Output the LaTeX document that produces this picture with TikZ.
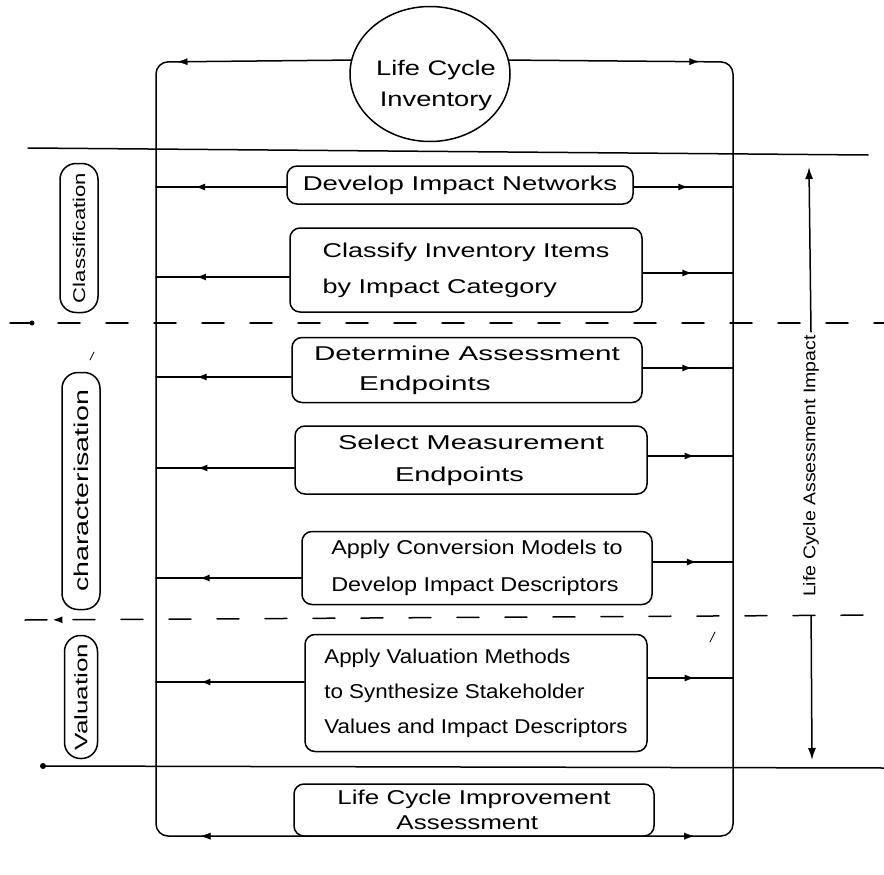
\documentclass[tikz,border=0pt]{standalone}
\usepackage{fontspec}
\setmainfont{Liberation Sans}
\usetikzlibrary{arrows.meta,decorations.markings,calc,shapes.geometric}

% handwritten-like wide lettering: size, leading, horizontal stretch
\newcommand\handfont[3]{\fontsize{#1}{#2}\selectfont\addfontfeature{FakeStretch=#3}}

\tikzset{
  pen/.style={line width=1.5pt, line cap=round, line join=round},
  stepbox/.style={pen, draw, rounded corners=10pt, inner sep=4pt, align=left},
  capsule/.style={pen, draw, rounded corners=16pt, rotate=90, inner sep=2pt},
  headarrow/.style={-{Latex[length=12pt,width=8pt]}},
  midarrow/.style={postaction={decorate}, decoration={markings,
    mark=at position #1 with {\arrow{Latex[length=10pt,width=7pt]}}}},
  divider/.style={pen, dash pattern=on 22pt off 26pt},
}

\begin{document}
\begin{tikzpicture}[x=1pt,y=-1pt]
\useasboundingbox (0,0) rectangle (884,875);

% corners of the surrounding feedback loop
\coordinate (TL) at (156,62);
\coordinate (TR) at (733,62);
\coordinate (BL) at (156,836);
\coordinate (BR) at (733,836);

% phase separators
\draw[pen] (28,148) -- (868,155);
\draw[divider] (10,323) -- (884,323);
\fill (32,323) circle (2.5pt);
\draw[divider, postaction={decorate}, decoration={markings,
  mark=at position 0.032 with {\arrowreversed{Latex[length=10pt,width=7pt]}}}]
  (25,620) -- (884,615);
\draw[pen] (43,766) -- (884,768);
\fill (43,766) circle (3pt);

% inventory and the loop around the assessment steps
\node[pen, draw, ellipse, minimum width=160pt, minimum height=135pt, inner sep=0pt,
  fill=white] (inv) at (430,74) {};
\node[font=\handfont{21}{31}{1.3}, align=center] (invtext) at (436,86)
  {Life Cycle\\Inventory};
\draw[pen, rounded corners=12pt] (inv.170) -- (TL) -- (BL) -- (BR) -- (TR) -- (inv.10);
\path[midarrow=0.89] (inv.170) -- (TL);
\path[midarrow=0.85] (inv.10) -- (TR);

% assessment steps
\node[stepbox, minimum width=346pt, minimum height=38pt,
  font=\handfont{20}{34}{1.38}] (b1) at (460,185)
  {Develop Impact Networks};
\node[stepbox, minimum width=352pt, minimum height=84pt,
  font=\handfont{20}{36}{1.35}] (b2) at (466,270)
  {Classify Inventory Items\\by Impact Category};
\node[stepbox, minimum width=350pt, minimum height=65pt,
  font=\handfont{20}{30}{1.48}] (b3) at (467,370)
  {Determine Assessment\\\hspace*{45pt}Endpoints};
\node[stepbox, minimum width=352pt, minimum height=68pt,
  font=\handfont{20}{32}{1.45}] (b4) at (471,460)
  {Select Measurement\\\hspace*{57pt}Endpoints};
\node[stepbox, minimum width=350pt, minimum height=73pt,
  font=\handfont{20}{37}{1.17}] (b5) at (477,568)
  {Apply Conversion Models to\\Develop Impact Descriptors};
\node[stepbox, minimum width=342pt, minimum height=117pt,
  font=\handfont{20}{35}{1.12}] (b6) at (476,693)
  {Apply Valuation Methods\\to Synthesize Stakeholder\\Values and Impact Descriptors};
\node[stepbox, minimum width=360pt, minimum height=52pt,
  font=\handfont{20}{25}{1.3}] (b7) at (474,810)
  {Life Cycle Improvement\\\hspace*{59pt}Assessment};
\path[midarrow=0.86] (b7.south) -- (BL);
\path[midarrow=0.85] (b7.south) -- (BR);

% links from each step to both sides of the loop
\foreach \b/\dl/\dr in {b1/-2/-2, b2/-7/-3, b3/-7/2, b4/-8/4, b5/-10/6, b6/11/15} {
  \coordinate (l\b) at ([yshift=\dl pt]\b.west);
  \coordinate (r\b) at ([yshift=\dr pt]\b.east);
  \draw[pen, midarrow=0.7] (l\b) -- (l\b -| TL);
  \draw[pen, midarrow=0.55] (r\b) -- (r\b -| TR);
}

% phase labels
\node[capsule, minimum width=149pt, minimum height=38pt,
  font=\handfont{17}{20}{1.3}] (cls) at (79,238) {Classification};
\node[capsule, minimum width=237pt, minimum height=38pt,
  font=\handfont{20}{22}{1.43}] (chr) at (81,491) {characterisation};
\node[capsule, minimum width=123pt, minimum height=33pt,
  font=\handfont{18}{20}{1.45}] (val) at (81,697) {Valuation};

% overall extent of the impact assessment
\node[rotate=90, font=\handfont{17}{20}{1.15}, inner sep=3pt] (lca) at (811,466)
  {Life Cycle Assessment Impact};
\coordinate (lcaTop) at (809,167);
\coordinate (lcaBot) at (812,760);
\draw[pen, headarrow] (lca.east) -- (lcaTop);
\draw[pen, headarrow, shorten <=16pt] (lca.west) -- (lcaBot);

% stray pen strokes
\draw[pen, line width=0.8pt] (90,360) -- (94,352);
\draw[pen, line width=0.8pt] (710,642) -- (715,632);
\end{tikzpicture}
\end{document}
